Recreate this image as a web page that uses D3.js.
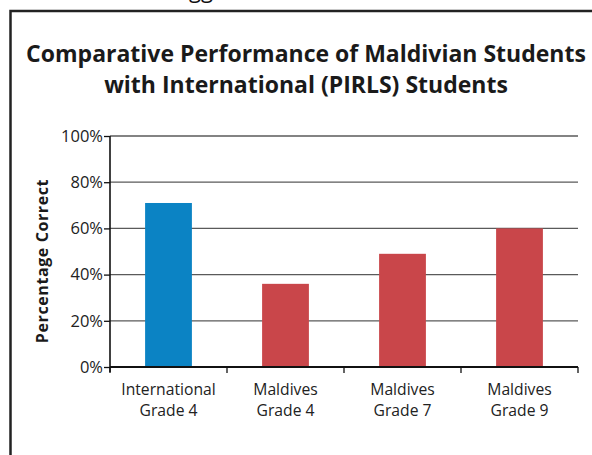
<!DOCTYPE html>
<html>
<head>
<meta charset="utf-8">
<script src="https://cdn.jsdelivr.net/npm/d3@7"></script>
<style>
  body { margin: 0; background: #fff; }
  svg { display: block; }
</style>
</head>
<body>
<svg id="vis-canvas" width="592" height="455"></svg>
<script>
// chart data
const categories = ["International|Grade 4", "Maldives|Grade 4", "Maldives|Grade 7", "Maldives|Grade 9"];
const values = [71, 36, 49, 60];
const barColors = ["#0b83c4", "#c9464a", "#c9464a", "#c9464a"];
const yTicks = [0, 20, 40, 60, 80, 100];
const titleLines = ["Comparative Performance of Maldivian Students", "with International (PIRLS) Students"];
const yLabel = "Percentage Correct";

const svg = d3.select("#vis-canvas");
const margin = {top: 136, right: 14, bottom: 88, left: 110};
const width = 592, height = 455;
const font = "'Open Sans', sans-serif";

// frame around the figure
svg.append("path")
  .attr("d", "M10.5,455 V11 H592")
  .attr("fill", "none")
  .attr("stroke", "#222")
  .attr("stroke-width", 2.5);

// cropped text from the page above
svg.append("text")
  .attr("x", 189).attr("y", -2)
  .attr("font-family", font)
  .attr("font-size", 22)
  .attr("fill", "#111")
  .text("gg");

let scaleX = d3.scaleBand().domain(categories)
  .range([margin.left, width - margin.right])
  .paddingInner(0.6).paddingOuter(0.3);
let scaleY = d3.scaleLinear().domain([0, 100])
  .range([height - margin.bottom, margin.top]);

// gridlines
svg.append("g")
  .selectAll("line")
  .data(yTicks.filter(d => d > 0))
  .enter().append("line")
  .attr("x1", margin.left).attr("x2", width - margin.right)
  .attr("y1", d => scaleY(d)).attr("y2", d => scaleY(d))
  .attr("stroke", "#5a5a5a")
  .attr("stroke-width", 1.3);

// bars
svg.append("g")
  .selectAll("rect")
  .data(values)
  .enter().append("rect")
  .attr("x", (d, i) => scaleX(categories[i]))
  .attr("y", d => scaleY(d))
  .attr("width", scaleX.bandwidth())
  .attr("height", d => scaleY(0) - scaleY(d))
  .attr("fill", (d, i) => barColors[i]);

// y axis
let yaxis = svg.append("g")
  .attr("transform", "translate(" + margin.left + ",0)")
  .call(d3.axisLeft(scaleY)
          .tickValues(yTicks)
          .tickFormat(d => d + "%")
          .tickSize(6)
          .tickPadding(1));
yaxis.select(".domain").attr("stroke", "#111").attr("stroke-width", 1.6)
  .attr("d", "M0," + (scaleY(0) + 5) + "V" + scaleY(100));
yaxis.selectAll(".tick line").attr("stroke", "#111").attr("stroke-width", 1.3);
yaxis.selectAll(".tick text")
  .attr("font-family", font)
  .attr("font-size", 16.5)
  .attr("fill", "#222");

// x axis with ticks between categories
let bounds = categories.map(c => scaleX(c) - (scaleX.step() - scaleX.bandwidth()) / 2);
bounds.push(width - margin.right);
let xg = svg.append("g");
xg.append("line")
  .attr("x1", margin.left).attr("x2", width - margin.right)
  .attr("y1", scaleY(0)).attr("y2", scaleY(0))
  .attr("stroke", "#111").attr("stroke-width", 1.8);
xg.selectAll(".xtick")
  .data(bounds)
  .enter().append("line")
  .attr("class", "xtick")
  .attr("x1", d => d).attr("x2", d => d)
  .attr("y1", scaleY(0)).attr("y2", scaleY(0) + 6)
  .attr("stroke", "#111").attr("stroke-width", 1.3);

// category labels
let catText = xg.selectAll(".cat")
  .data(categories)
  .enter().append("text")
  .attr("class", "cat")
  .attr("x", d => scaleX(d) + scaleX.bandwidth() / 2)
  .attr("y", scaleY(0) + 28)
  .attr("text-anchor", "middle")
  .attr("font-family", font)
  .attr("font-size", 15.7)
  .attr("fill", "#222");
catText.each(function(d) {
  let parts = d.split("|");
  let t = d3.select(this);
  parts.forEach((p, i) => {
    t.append("tspan")
      .attr("x", scaleX(d) + scaleX.bandwidth() / 2)
      .attr("dy", i === 0 ? 0 : 21)
      .text(p);
  });
});

// y axis title
svg.append("text")
  .attr("transform", "translate(48," + 261 + ") rotate(-90)")
  .attr("text-anchor", "middle")
  .attr("font-family", font)
  .attr("font-weight", "bold")
  .attr("font-size", 16)
  .attr("letter-spacing", 0.6)
  .attr("fill", "#1a1a1a")
  .text(yLabel);

// chart title
svg.append("g")
  .selectAll("text")
  .data(titleLines)
  .enter().append("text")
  .attr("x", 306)
  .attr("y", (d, i) => 62 + i * 31)
  .attr("text-anchor", "middle")
  .attr("font-family", font)
  .attr("font-weight", "bold")
  .attr("font-size", 23)
  .attr("fill", "#1a1a1a")
  .text(d => d);
</script>
</body>
</html>
